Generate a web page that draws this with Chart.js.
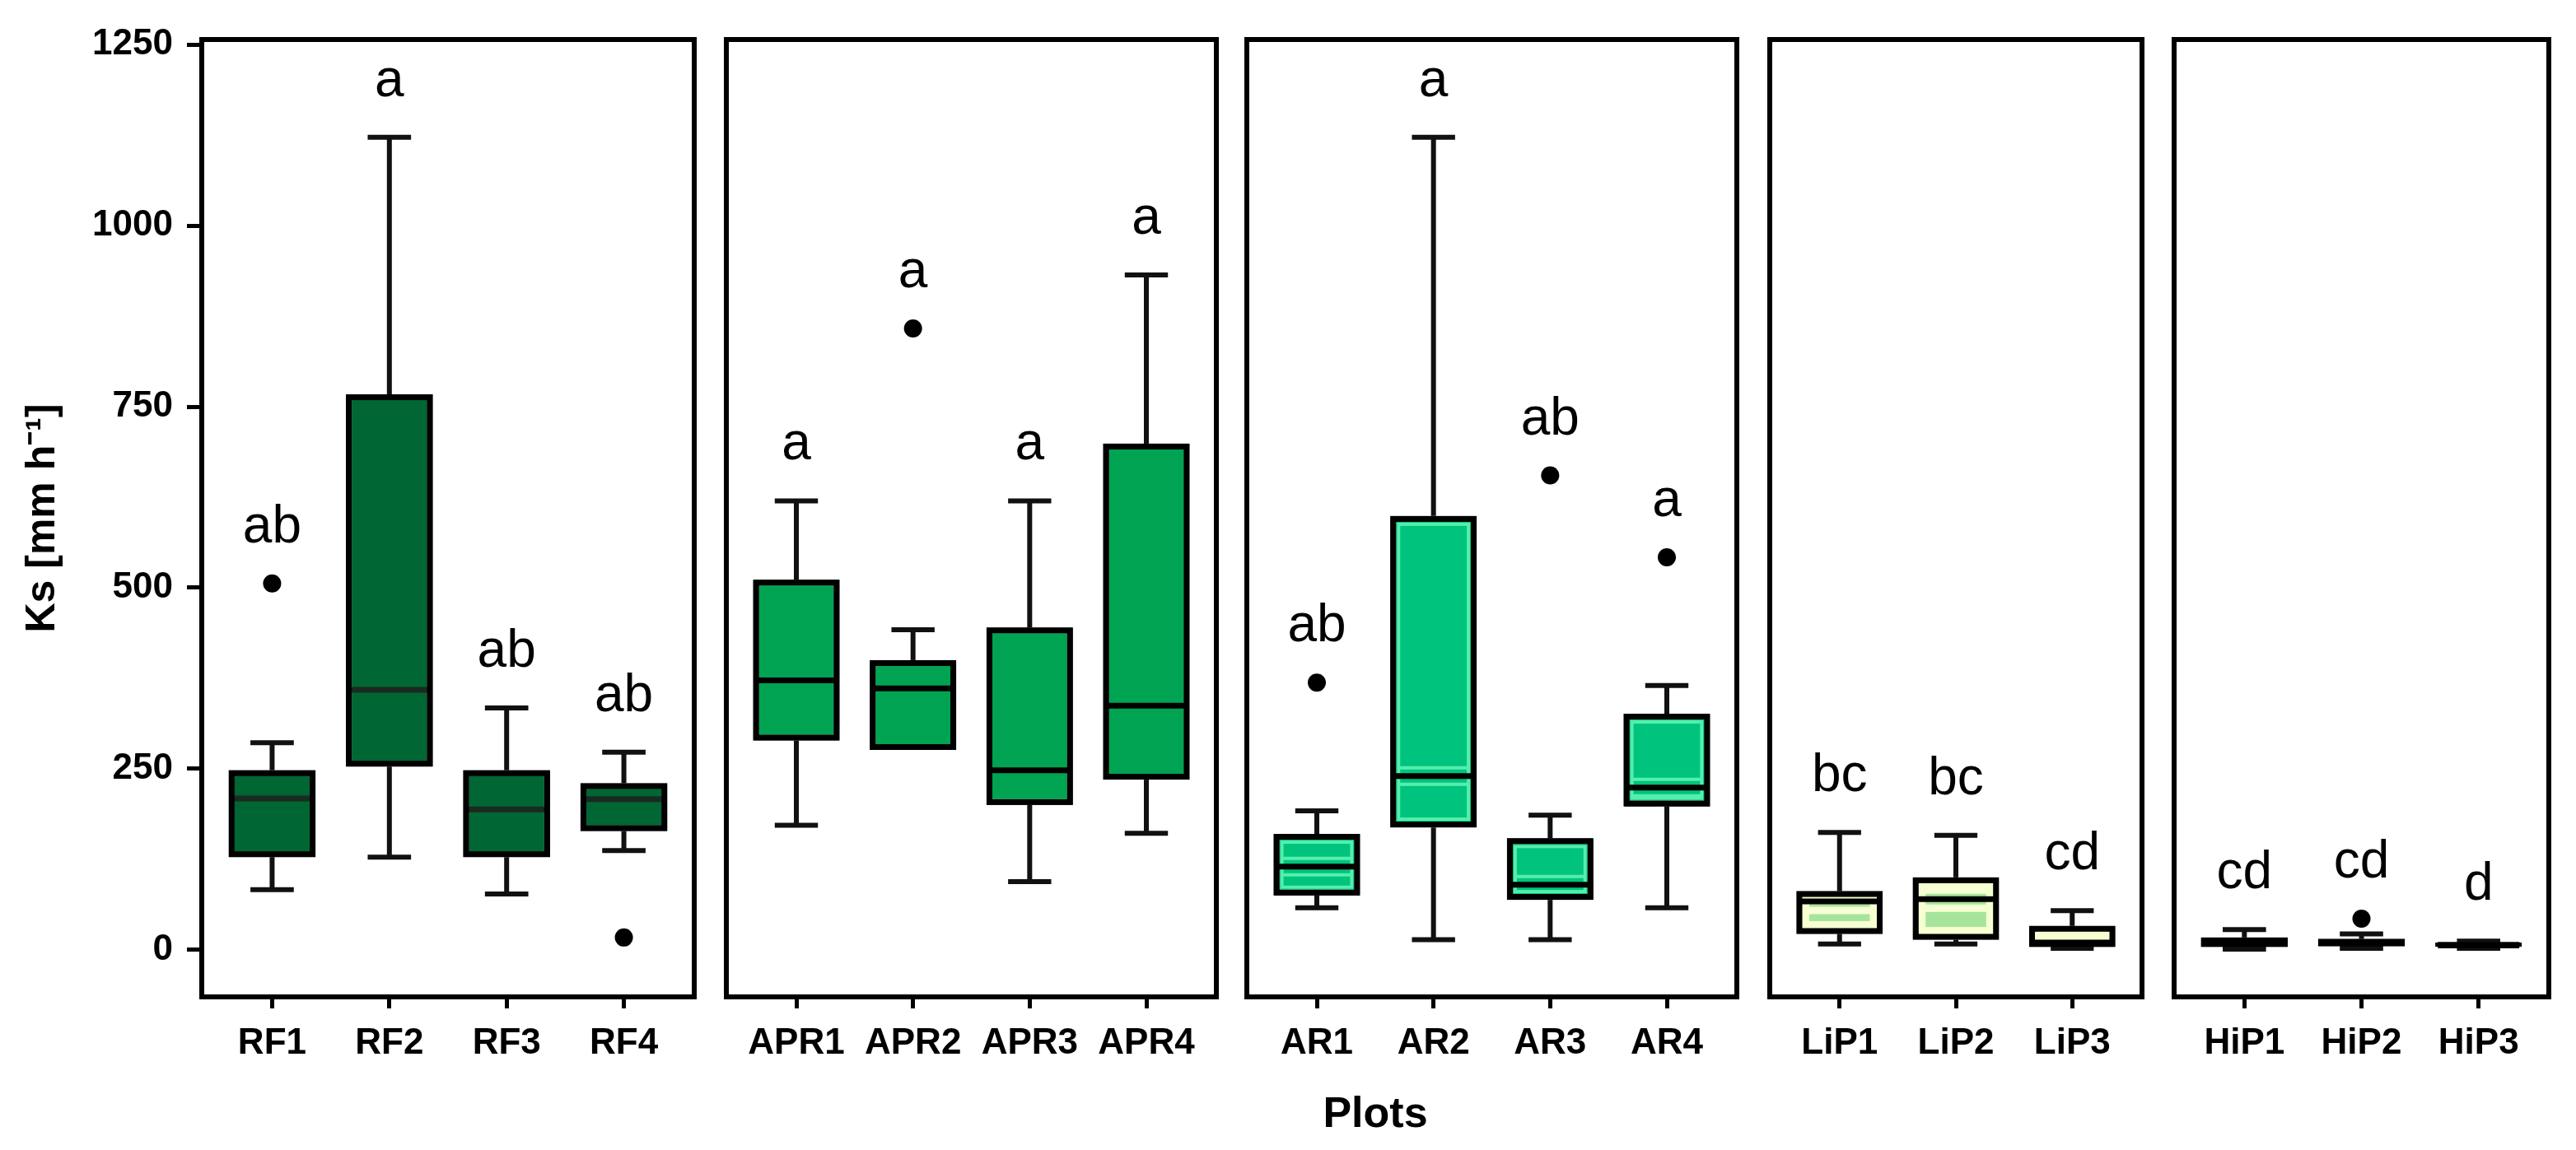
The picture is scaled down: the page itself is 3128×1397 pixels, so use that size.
<!DOCTYPE html>
<html>
<head>
<meta charset="utf-8">
<title>Ks by plot</title>
<script src="https://cdn.jsdelivr.net/npm/chart.js@4.4.1/dist/chart.umd.min.js"></script>
<style>
  html, body { margin: 0; padding: 0; background: #fff; }
  body { width: 3128px; height: 1397px; position: relative; overflow: hidden; }
  .panel { position: absolute; top: 0; height: 1397px; }
  #xtitle {
    position: absolute; left: 1470px; width: 400px; top: 1325px;
    text-align: center; color: #000;
    font: bold 52px/52px "Liberation Sans", Arial, sans-serif;
  }
</style>
</head>
<body>
<div class="panel" id="p0"><canvas></canvas></div>
<div class="panel" id="p1"><canvas></canvas></div>
<div class="panel" id="p2"><canvas></canvas></div>
<div class="panel" id="p3"><canvas></canvas></div>
<div class="panel" id="p4"><canvas></canvas></div>
<div id="xtitle">Plots</div>

<script>
// plots, grouped by land use (one panel each)
const plots = ['RF1', 'RF2', 'RF3', 'RF4',
  'APR1', 'APR2', 'APR3', 'APR4',
  'AR1', 'AR2', 'AR3', 'AR4',
  'LiP1', 'LiP2', 'LiP3',
  'HiP1', 'HiP2', 'HiP3'];
const panelSizes = [4, 4, 4, 3, 3];

// Ks [mm h-1] box plot statistics
const whiskerLow  = [83, 128, 77, 137,   172, 276, 94, 161,    58, 14, 14, 58,     8, 8, 2,     1, 2, 2];
const quart1      = [128, 253, 128, 164, 289, 276, 200, 235,   75, 169, 69, 198,   22, 14, 4,   4, 5, 4];
const median      = [209, 359, 194, 208, 372, 361, 248, 337,   115, 240, 90, 224,  67, 70, 10,  10, 10, 7];
const quart3      = [248, 767, 248, 230, 511, 400, 445, 699,   160, 599, 154, 326, 81, 100, 33, 17, 15, 10];
const whiskerHigh = [286, 1122, 334, 273, 620, 442, 620, 932,  192, 1122, 186, 365, 162, 158, 54, 28, 22, 12];
const outliers    = [[506], [], [], [17],  [], [858], [], [],   [369], [], [655], [542],  [], [], [],  [], [43], []];
const letters     = ['ab', 'a', 'ab', 'ab', 'a', 'a', 'a', 'a', 'ab', 'a', 'ab', 'a', 'bc', 'bc', 'cd', 'cd', 'cd', 'd'];

const yTicks = [0, 250, 500, 750, 1000, 1250];
const yMin = -65;
const yMax = 1257;

// styling / layout
const panelFill = ['#006633', '#00A352', '#00C47E', '#A6E49C', '#1c1c1c'];
const panelGlow = [null, null, { color: '#55EEAC', width: 4, inset: 10 }, { color: '#F6FFD2', width: 9, inset: 11 }, null];
const medianColor = ['#1b2a20', '#000', '#000', '#000', '#000'];
const panelFrames = [[245, 843], [882, 1477], [1514, 2109], [2149, 2601], [2640, 3095]];
const FONT = '"Liberation Sans", Arial, sans-serif';

const boxParts = {
  id: 'boxParts',
  beforeDatasetsDraw(chart, args, opts) {
    const { ctx } = chart;
    const x = chart.scales.x, y = chart.scales.y;
    const bars = chart.getDatasetMeta(0).data;
    ctx.save();
    ctx.strokeStyle = '#111';
    ctx.lineWidth = 6;
    ctx.lineCap = 'butt';
    for (let i = 0; i < opts.count; i++) {
      const k = opts.start + i;
      const cx = x.getPixelForValue(i);
      const half = bars[i].width / 4;
      const seg = (a, b, c, d) => { ctx.beginPath(); ctx.moveTo(a, b); ctx.lineTo(c, d); ctx.stroke(); };
      if (whiskerLow[k] < quart1[k]) {
        seg(cx, y.getPixelForValue(quart1[k]), cx, y.getPixelForValue(whiskerLow[k]));
        seg(cx - half, y.getPixelForValue(whiskerLow[k]), cx + half, y.getPixelForValue(whiskerLow[k]));
      }
      if (whiskerHigh[k] > quart3[k]) {
        seg(cx, y.getPixelForValue(quart3[k]), cx, y.getPixelForValue(whiskerHigh[k]));
        seg(cx - half, y.getPixelForValue(whiskerHigh[k]), cx + half, y.getPixelForValue(whiskerHigh[k]));
      }
    }
    ctx.restore();
  },
  afterDatasetsDraw(chart, args, opts) {
    const { ctx } = chart;
    const x = chart.scales.x, y = chart.scales.y;
    const bars = chart.getDatasetMeta(0).data;
    const glow = panelGlow[opts.panel];
    ctx.save();
    for (let i = 0; i < opts.count; i++) {
      const k = opts.start + i;
      const cx = x.getPixelForValue(i);
      const w = bars[i].width;
      const yMed = y.getPixelForValue(median[k]);
      // light inner rim of the box (as in the original rendering)
      if (glow) {
        const top = y.getPixelForValue(quart3[k]) + glow.inset;
        const bot = y.getPixelForValue(quart1[k]) - glow.inset;
        const l = cx - w / 2 + glow.inset, r = cx + w / 2 - glow.inset;
        if (bot > top) {
          ctx.save();
          ctx.beginPath();
          ctx.rect(l - glow.width / 2, top - glow.width / 2, r - l + glow.width, bot - top + glow.width);
          ctx.clip();
          ctx.strokeStyle = glow.color;
          ctx.lineWidth = glow.width;
          ctx.strokeRect(l, top, r - l, bot - top);
          ctx.beginPath();
          ctx.moveTo(l, yMed - glow.inset); ctx.lineTo(r, yMed - glow.inset);
          ctx.moveTo(l, yMed + glow.inset); ctx.lineTo(r, yMed + glow.inset);
          ctx.stroke();
          ctx.restore();
        }
      }
      // median
      ctx.strokeStyle = medianColor[opts.panel];
      ctx.lineWidth = 7;
      ctx.beginPath();
      ctx.moveTo(cx - w / 2 + 3, yMed);
      ctx.lineTo(cx + w / 2 - 3, yMed);
      ctx.stroke();
      // significance letters above the highest point
      const hi = Math.max(whiskerHigh[k], ...outliers[k]);
      ctx.fillStyle = '#000';
      ctx.font = '64px ' + FONT;
      ctx.textAlign = 'center';
      ctx.textBaseline = 'alphabetic';
      ctx.fillText(letters[k], cx, y.getPixelForValue(hi) - 50);
    }
    // redraw box outlines on top of the rims
    ctx.strokeStyle = '#000';
    ctx.lineWidth = 7;
    for (let i = 0; i < opts.count; i++) {
      const k = opts.start + i;
      const cx = x.getPixelForValue(i);
      const w = bars[i].width;
      const t = y.getPixelForValue(quart3[k]), b = y.getPixelForValue(quart1[k]);
      ctx.strokeRect(cx - w / 2 + 3.5, t + 3.5, w - 7, Math.max(b - t - 7, 0));
    }
    // panel frame
    const a = chart.chartArea;
    ctx.lineWidth = 6;
    ctx.strokeRect(a.left, a.top, a.right - a.left, a.bottom - a.top);
    ctx.restore();
  }
};

let start = 0;
panelSizes.forEach((n, p) => {
  const cats = plots.slice(start, start + n);
  const boxData = cats.map((c, i) => ({ x: i, y: [quart1[start + i], quart3[start + i]] }));
  const outData = [];
  cats.forEach((c, i) => outliers[start + i].forEach(v => outData.push({ x: i, y: v })));

  const [L, R] = panelFrames[p];
  const wrap = document.getElementById('p' + p);
  const first = p === 0;
  wrap.style.left = (first ? 0 : L - 15) + 'px';
  wrap.style.width = (first ? R + 15 : R - L + 30) + 'px';

  const tickGrid = (len) => ({
    display: true, drawOnChartArea: false, drawTicks: true, offset: false,
    tickLength: len, tickWidth: 5, tickColor: '#000'
  });

  const yScale = {
    display: first,
    min: yMin,
    max: yMax,
    afterBuildTicks: s => { s.ticks = yTicks.map(v => ({ value: v })); },
    ticks: {
      padding: 17, color: '#000',
      font: { family: FONT, size: 44, weight: 'bold' },
      callback: v => String(v)
    },
    grid: tickGrid(18),
    border: { display: false },
    title: {
      display: true,
      text: 'Ks [mm h⁻¹]',
      color: '#000',
      font: { family: FONT, size: 50, weight: 'bold' },
      padding: { top: 22, bottom: 0 }
    }
  };
  if (first) yScale.afterFit = s => { s.width = 245; };

  new Chart(wrap.querySelector('canvas'), {
    type: 'bar',
    data: {
      datasets: [
        {
          data: boxData,
          backgroundColor: panelFill[p],
          borderColor: '#000',
          borderWidth: 7,
          borderSkipped: false,
          categoryPercentage: 1,
          barPercentage: 0.74
        },
        {
          type: 'scatter',
          data: outData,
          backgroundColor: '#000',
          borderWidth: 0,
          pointRadius: 11
        }
      ]
    },
    options: {
      responsive: true,
      maintainAspectRatio: false,
      animation: false,
      layout: { padding: { top: 48, bottom: 0, left: first ? 0 : 15, right: 15 } },
      plugins: {
        legend: { display: false },
        tooltip: { enabled: false },
        boxParts: { start: start, count: n, panel: p }
      },
      scales: {
        x: {
          type: 'linear',
          offset: false,
          min: -0.6,
          max: n - 0.4,
          afterBuildTicks: s => { s.ticks = cats.map((c, i) => ({ value: i })); },
          afterFit: s => { s.height = 186; },
          ticks: {
            autoSkip: false, maxRotation: 0, padding: 16, color: '#000',
            font: { family: FONT, size: 44, weight: 'bold' },
            callback: v => cats[Math.round(v)]
          },
          grid: tickGrid(14),
          border: { display: false }
        },
        y: yScale
      }
    },
    plugins: [boxParts]
  });
  start += n;
});
</script>
</body>
</html>
